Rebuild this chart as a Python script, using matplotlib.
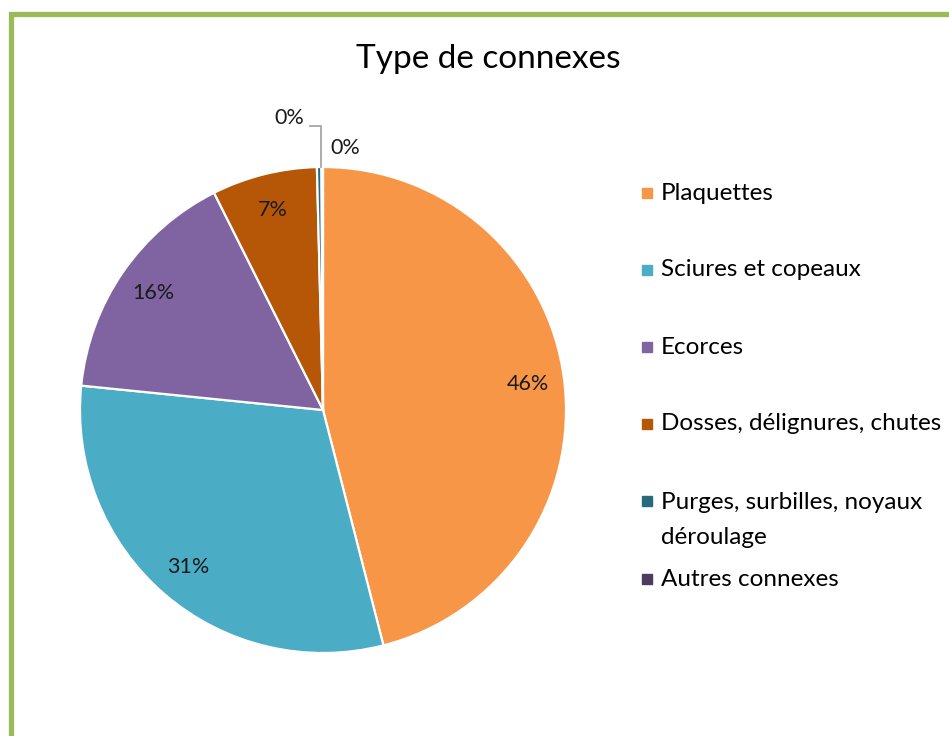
import numpy as np
import matplotlib
matplotlib.use("Agg")
from matplotlib import pyplot as plt
from matplotlib.patches import Rectangle

# Données du graphique
categories = ["Plaquettes", "Sciures et copeaux", "Ecorces",
              "Dosses, délignures, chutes", "Purges, surbilles, noyaux\ndéroulage",
              "Autres connexes"]
parts = [46.0, 30.6, 16.0, 7.0, 0.3, 0.1]
couleurs = ["#F79646", "#4BACC6", "#8064A2", "#B65708", "#276A7C", "#4D3B62"]

W, H = 949, 736
plt.rcParams["font.family"] = ["Lato", "DejaVu Sans"]

fig = plt.figure(figsize=(W / 100, H / 100), dpi=100)

# Cadre vert
fig.add_artist(Rectangle((10.7 / W, -0.5), 2, 1.5 - 14 / H,
                         transform=fig.transFigure, fill=False,
                         edgecolor="#9BBB59", linewidth=3.8, clip_on=False))

# Axe du camembert: centre (323, 410) px, rayon 243 px
cx, cy, r = 323, 410, 243
lim = 1.3
aw = 2 * lim * r
ax = fig.add_axes([(cx - aw / 2) / W, (H - cy - aw / 2) / H, aw / W, aw / H])

wedges, texts, autotexts = ax.pie(
    parts, colors=couleurs, startangle=90, counterclock=False,
    autopct="%.0f%%", pctdistance=0.85,
    wedgeprops=dict(edgecolor="white", linewidth=1.6),
    textprops=dict(fontsize=15.5, color="#1A1A1A"))
ax.set_xlim(-lim, lim)
ax.set_ylim(-lim, lim)
ax.set_aspect("equal")
ax.axis("off")

# Étiquettes des petites parts, placées hors du disque
autotexts[4].set_position((-0.14, 1.20))
autotexts[5].set_position((0.09, 1.08))
ax.plot([-0.008, -0.008, -0.055], [1.0, 1.17, 1.17], color="#A6A6A6", lw=1.3)

fig.text(488 / W, 1 - 59 / H, "Type de connexes", ha="center", va="center",
         fontsize=24, color="#000000")

# Légende
lignes_y = [193, 270, 347, 424, 501, 579]
for cat, col, py in zip(categories, couleurs, lignes_y):
    fig.add_artist(Rectangle((642 / W, 1 - (py + 5) / H), 10 / W, 10 / H,
                             transform=fig.transFigure, color=col))
    if "\n" in cat:
        fig.text(661 / W, 1 - (py - 9) / H, cat, ha="left", va="top",
                 fontsize=17.5, color="#000000", linespacing=1.85)
    else:
        fig.text(661 / W, 1 - py / H, cat, ha="left", va="center",
                 fontsize=17.5, color="#000000")

fig.savefig("out.png", dpi=100)
